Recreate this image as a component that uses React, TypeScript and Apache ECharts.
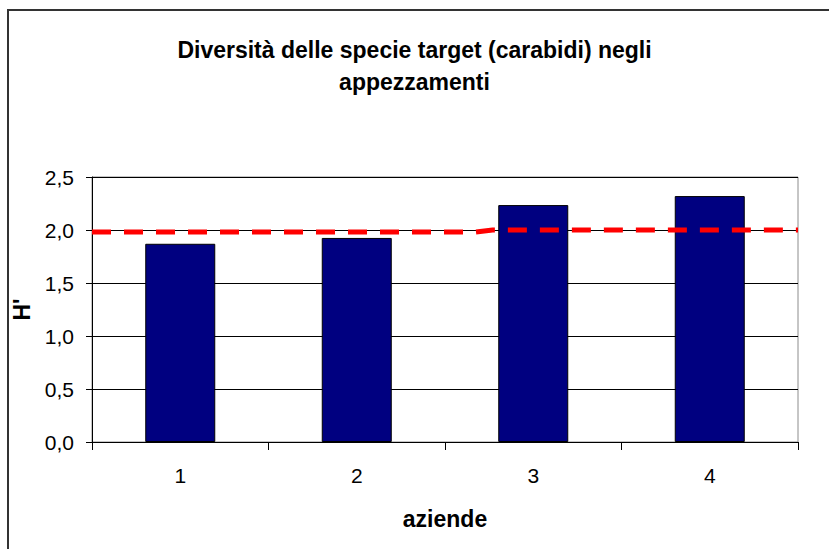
import React, { useEffect, useRef } from "react";
import * as echarts from "echarts";

const categories = ["1", "2", "3", "4"];
const barValues = [1.87, 1.925, 2.235, 2.32];
// reference line (x in category units from left edge 0 to right edge 4)
const refLineX = [0, 2.17, 2.27, 4];
const refLineY = [1.98, 1.98, 2.0, 2.0];
const yTicks = { min: 0, max: 2.5, interval: 0.5 };

const FONT = "'Liberation Sans', Arial, sans-serif";

export default function App() {
  const ref = useRef<HTMLDivElement>(null);
  useEffect(() => {
    if (!ref.current) return;
    const chart = echarts.init(ref.current, undefined, { renderer: "svg" });
    chart.setOption({
      animation: false,
      backgroundColor: "#ffffff",
      textStyle: { fontFamily: FONT },
      title: {
        text: "Diversità delle specie target (carabidi) negli\nappezzamenti",
        left: "center",
        top: 29,
        textStyle: {
          fontFamily: FONT,
          fontSize: 23,
          fontWeight: "bold",
          color: "#000",
          lineHeight: 32,
        },
      },
      graphic: [
        {
          type: "rect",
          shape: { x: 8, y: 10, width: 900, height: 600 },
          style: { fill: "none", stroke: "#333", lineWidth: 2 },
          silent: true,
          z: 100,
        },
      ],
      grid: {
        left: 92,
        right: 31,
        top: 177,
        bottom: 107,
        show: true,
        borderColor: "#8c8c8c",
        borderWidth: 1,
        backgroundColor: "transparent",
      },
      xAxis: [
        {
          type: "category",
          data: categories,
          axisLine: { lineStyle: { color: "#000", width: 1 } },
          axisTick: { show: true, alignWithLabel: false, length: 8, lineStyle: { color: "#000" } },
          axisLabel: { fontFamily: FONT, fontSize: 21, color: "#000", margin: 23 },
          name: "aziende",
          nameLocation: "middle",
          nameGap: 65,
          nameTextStyle: { fontFamily: FONT, fontSize: 23, fontWeight: "bold", color: "#000" },
        },
        {
          type: "value",
          min: 0,
          max: 4,
          show: false,
        },
      ],
      yAxis: {
        type: "value",
        min: yTicks.min,
        max: yTicks.max,
        interval: yTicks.interval,
        axisLine: { show: true, lineStyle: { color: "#000", width: 1 } },
        axisTick: { show: true, length: 6, lineStyle: { color: "#000" } },
        axisLabel: {
          fontFamily: FONT,
          fontSize: 21,
          color: "#000",
          margin: 18,
          formatter: (v: number) => v.toFixed(1).replace(".", ","),
        },
        splitLine: { show: true, lineStyle: { color: "#000", width: 1 } },
        name: "H'",
        nameLocation: "middle",
        nameGap: 49,
        nameTextStyle: { fontFamily: FONT, fontSize: 23, fontWeight: "bold", color: "#000" },
      },
      series: [
        {
          type: "bar",
          data: barValues,
          barWidth: 70,
          itemStyle: { color: "#000080", borderColor: "#000", borderWidth: 1 },
          z: 2,
        },
        {
          type: "line",
          xAxisIndex: 1,
          data: refLineX.map((x, i) => [x, refLineY[i]]),
          symbol: "none",
          lineStyle: { color: "#ff0000", width: 5, type: [19, 13] },
          z: 5,
        },
      ],
    });
    return () => chart.dispose();
  }, []);
  return (
    <div
      ref={ref}
      style={{ position: "absolute", left: 0, top: 0, width: 829, height: 549 }}
    />
  );
}
